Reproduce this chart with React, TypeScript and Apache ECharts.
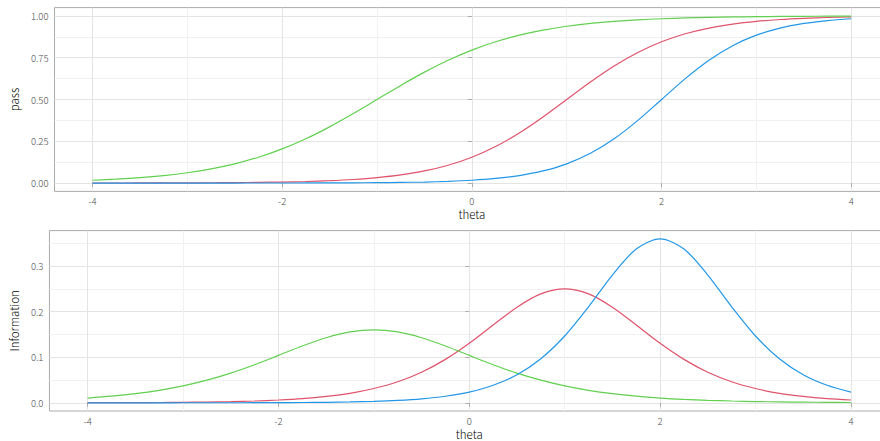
import React, { useEffect, useRef } from "react";
import * as echarts from "echarts";

const theta = [-4, -3.75, -3.5, -3.25, -3, -2.75, -2.5, -2.25, -2, -1.75, -1.5, -1.25, -1, -0.75, -0.5, -0.25, 0, 0.25, 0.5, 0.75, 1, 1.25, 1.5, 1.75, 2, 2.25, 2.5, 2.75, 3, 3.25, 3.5, 3.75, 4];

const passRed = [0.0002, 0.0003, 0.0005, 0.0007, 0.0011, 0.0017, 0.0026, 0.004, 0.0061, 0.0092, 0.0141, 0.0213, 0.0323, 0.0486, 0.0724, 0.1067, 0.1545, 0.2184, 0.2994, 0.3953, 0.5, 0.6047, 0.7006, 0.7816, 0.8455, 0.8933, 0.9276, 0.9514, 0.9677, 0.9787, 0.9859, 0.9908, 0.9939];
const passGreen = [0.0166, 0.0232, 0.0323, 0.0448, 0.0618, 0.0847, 0.115, 0.1545, 0.2043, 0.265, 0.3363, 0.4158, 0.5, 0.5842, 0.6637, 0.735, 0.7957, 0.8455, 0.885, 0.9153, 0.9382, 0.9552, 0.9677, 0.9768, 0.9834, 0.9881, 0.9915, 0.9939, 0.9957, 0.9969, 0.9978, 0.9984, 0.9989];
const passBlue = [0, 0, 0, 0, 0, 0.0001, 0.0001, 0.0002, 0.0003, 0.0005, 0.0008, 0.0013, 0.0022, 0.0037, 0.0061, 0.0101, 0.0166, 0.0274, 0.0448, 0.0724, 0.115, 0.178, 0.265, 0.3752, 0.5, 0.6248, 0.735, 0.822, 0.885, 0.9276, 0.9552, 0.9726, 0.9834];

const infoRed = [0.0002, 0.0003, 0.0005, 0.0007, 0.0011, 0.0017, 0.0026, 0.004, 0.0061, 0.0091, 0.0139, 0.0208, 0.0313, 0.0462, 0.0672, 0.0953, 0.1306, 0.1707, 0.2098, 0.239, 0.25, 0.239, 0.2098, 0.1707, 0.1306, 0.0953, 0.0672, 0.0462, 0.0313, 0.0208, 0.0139, 0.0091, 0.0061];
const infoGreen = [0.0104, 0.0145, 0.02, 0.0274, 0.0371, 0.0496, 0.0651, 0.0836, 0.104, 0.1247, 0.1428, 0.1555, 0.16, 0.1555, 0.1428, 0.1247, 0.104, 0.0836, 0.0651, 0.0496, 0.0371, 0.0274, 0.02, 0.0145, 0.0104, 0.0075, 0.0054, 0.0039, 0.0027, 0.002, 0.0014, 0.001, 0.0007];
const infoBlue = [0, 0, 0, 0, 0.0001, 0.0001, 0.0001, 0.0002, 0.0004, 0.0007, 0.0011, 0.0019, 0.0032, 0.0053, 0.0087, 0.0144, 0.0235, 0.0384, 0.0616, 0.0967, 0.1466, 0.2107, 0.2805, 0.3376, 0.36, 0.3376, 0.2805, 0.2107, 0.1466, 0.0967, 0.0616, 0.0384, 0.0235];

const xMajor = [-4, -2, 0, 2, 4];
const xMinor = [-3, -1, 1, 3];
const passMajor = [0, 0.25, 0.5, 0.75, 1];
const passMinor = [0.125, 0.375, 0.625, 0.875];
const infoMajor = [0, 0.1, 0.2, 0.3];
const infoMinor = [0.05, 0.15, 0.25, 0.35];

const RED = "#DF536B";
const GREEN = "#61D04F";
const BLUE = "#2297E6";

const FONT = "'Noto Sans CJK JP', 'Noto Sans', sans-serif";
const LABEL_COLOR = "#4D4D4D";
const BORDER = "#ABABAB";
const MAJOR = "#E4E4E4";
const MINOR = "#F1F1F1";

function pairs(vals: number[]) {
  return theta.map((t, i) => [t, vals[i]]);
}

const tickLabel = { color: LABEL_COLOR, fontSize: 9.5, fontFamily: FONT, fontWeight: 300, lineHeight: 10 };
const titleText = { color: "#000", fontSize: 11.5, fontFamily: FONT, fontWeight: 300, lineHeight: 12 };

function majorX(gridIndex: number) {
  return {
    type: "value",
    gridIndex,
    min: -4.4,
    max: 4.4,
    position: "bottom",
    axisLine: { show: false },
    axisTick: { show: true, customValues: xMajor, length: 4, lineStyle: { color: BORDER, width: 1 } },
    axisLabel: { ...tickLabel, customValues: xMajor, margin: 5, formatter: (v: number) => String(v) },
    splitLine: { show: true, lineStyle: { color: MAJOR, width: 1 } },
    name: "theta",
    nameLocation: "middle",
    nameGap: 17,
    nameTextStyle: titleText,
  };
}
function minorX(gridIndex: number) {
  return {
    type: "value",
    gridIndex,
    min: -4.4,
    max: 4.4,
    position: "bottom",
    axisLine: { show: false },
    axisTick: { show: false, customValues: xMinor },
    axisLabel: { show: false, customValues: xMinor },
    splitLine: { show: true, lineStyle: { color: MINOR, width: 1 } },
  };
}
function majorY(gridIndex: number, min: number, max: number, ticks: number[], digits: number, name: string, nameGap: number) {
  return {
    type: "value",
    gridIndex,
    min,
    max,
    position: "left",
    axisLine: { show: false },
    axisTick: { show: true, customValues: ticks, length: 4, lineStyle: { color: BORDER, width: 1 } },
    axisLabel: { ...tickLabel, customValues: ticks, margin: 6, formatter: (v: number) => v.toFixed(digits) },
    splitLine: { show: true, lineStyle: { color: MAJOR, width: 1 } },
    name,
    nameLocation: "middle",
    nameGap,
    nameTextStyle: titleText,
  };
}
function minorY(gridIndex: number, min: number, max: number, ticks: number[]) {
  return {
    type: "value",
    gridIndex,
    min,
    max,
    position: "left",
    axisLine: { show: false },
    axisTick: { show: false, customValues: ticks },
    axisLabel: { show: false, customValues: ticks },
    splitLine: { show: true, lineStyle: { color: MINOR, width: 1 } },
  };
}

function line(name: string, vals: number[], color: string, xi: number, yi: number) {
  return {
    type: "line",
    name,
    xAxisIndex: xi,
    yAxisIndex: yi,
    data: pairs(vals),
    showSymbol: false,
    smooth: 0.3,
    lineStyle: { color, width: 1.2 },
    itemStyle: { color },
    z: 3,
  };
}

export default function App() {
  const ref = useRef<HTMLDivElement>(null);
  useEffect(() => {
    document.body.style.margin = "0";
    const chart = echarts.init(ref.current!, null, { renderer: "svg" });
    chart.setOption({
      animation: false,
      backgroundColor: "#FFFFFF",
      textStyle: { fontFamily: FONT },
      grid: [
        { left: 49.5, top: 7.6, width: 839.7, height: 183.8, show: true, borderColor: BORDER, borderWidth: 1, backgroundColor: "transparent", containLabel: false },
        { left: 43.6, top: 230.6, width: 845.5, height: 183.4, show: true, borderColor: BORDER, borderWidth: 1, backgroundColor: "transparent", containLabel: false },
      ],
      xAxis: [majorX(0), minorX(0), majorX(1), minorX(1)],
      yAxis: [
        majorY(0, -0.05, 1.05, passMajor, 2, "pass", 30),
        minorY(0, -0.05, 1.05, passMinor),
        majorY(1, -0.018, 0.378, infoMajor, 1, "Information", 24),
        minorY(1, -0.018, 0.378, infoMinor),
      ],
      series: [
        line("red", passRed, RED, 0, 0),
        line("green", passGreen, GREEN, 0, 0),
        line("blue", passBlue, BLUE, 0, 0),
        line("red", infoRed, RED, 2, 2),
        line("green", infoGreen, GREEN, 2, 2),
        line("blue", infoBlue, BLUE, 2, 2),
      ],
    });
    return () => chart.dispose();
  }, []);
  return (
    <div style={{ width: 880, height: 441, overflow: "hidden", position: "relative" }}>
      <div ref={ref} style={{ width: 900, height: 441 }} />
    </div>
  );
}
